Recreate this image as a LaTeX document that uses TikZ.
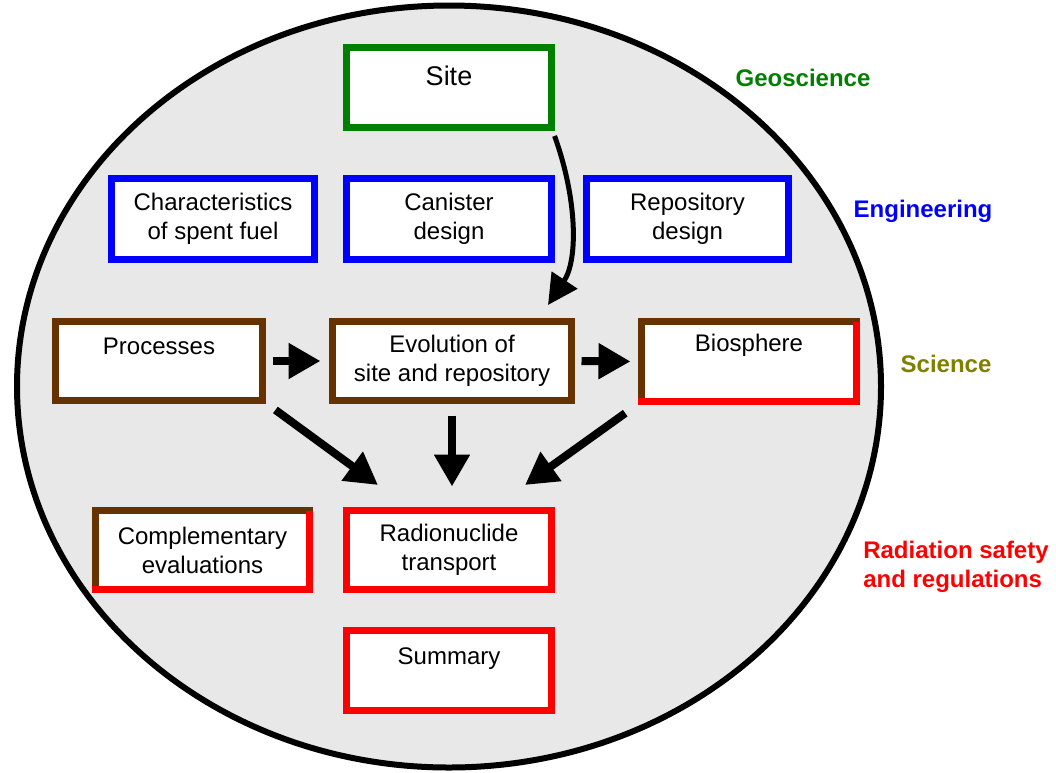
\documentclass[tikz,border=0pt]{standalone}
\usepackage{fontspec}
\setmainfont{Liberation Sans}
\usetikzlibrary{arrows.meta,calc}
\definecolor{geogreen}{RGB}{0,128,0}
\definecolor{engblue}{RGB}{0,0,255}
\definecolor{scibrown}{RGB}{102,51,0}
\definecolor{sciolive}{RGB}{128,128,0}
\definecolor{radred}{RGB}{255,0,0}
\definecolor{ovalgray}{RGB}{232,232,232}
\tikzset{
  box/.style={draw=#1,line width=7pt,fill=white,minimum width=205pt,minimum height=80pt,inner sep=0pt,outer sep=0pt,align=center,font=\fontsize{24}{29}\selectfont},
  box/.default={scibrown},
  redside/.style={draw=radred,line width=7pt},
  arr/.style={line width=8pt,-{Triangle[length=32pt,width=34pt]}},
  area/.style={font=\bfseries\fontsize{24}{29}\selectfont,align=left},
}
\begin{document}
\begin{tikzpicture}[x=1pt,y=-1pt]
 \useasboundingbox (0,0) rectangle (1056,772);
 \draw[line width=6pt,fill=ovalgray] (449,386.5) ellipse [x radius=432,y radius=381];
 % boxes
 \node[box=geogreen,font=\fontsize{27}{24}\selectfont] (site) at (449,87.5) {Site\\\mbox{}};
 \node[box=engblue,minimum width=203pt,minimum height=81pt] (fuel) at (213,219) {Characteristics\\of spent fuel};
 \node[box=engblue,minimum height=81pt] (can) at (449,219) {Canister\\design};
 \node[box=engblue,minimum width=202pt,minimum height=81pt] (repo) at (687.5,219) {Repository\\design};
 \node[box,minimum width=207pt,minimum height=79pt] (proc) at (159,361) {Processes\\\mbox{}};
 \node[box,minimum width=239pt,minimum height=79pt] (evo) at (452,361) {Evolution of\\site and repository};
 \node[box,minimum width=215pt,font=\fontsize{24}{38}\selectfont] (bio) at (749,361.5) {Biosphere\\\mbox{}};
 \node[box,minimum width=214pt,minimum height=79pt] (comp) at (202.5,550) {Complementary\\evaluations};
 \node[box=radred,minimum height=79pt] (rad) at (449,550) {Radionuclide\\transport};
 \node[box=radred] (sum) at (449,670.5) {Summary\\\mbox{}};
 \draw[redside] (bio.north east) -- (bio.south east) -- ($(bio.south west)+(-3.5,0)$);
 \draw[redside] (comp.north east) -- (comp.south east) -- ($(comp.south west)+(-3.5,0)$);
 % areas
 \node[area,text=geogreen] (geo) at (803,78) {Geoscience};
 \node[area,text=engblue] (eng) at (923,211) {Engineering};
 \node[area,text=sciolive] (sci) at (946,364) {Science};
 \node[area,text=radred] (radsafe) at (956,567) {Radiation safety\\and regulations};
 % arrows
 \coordinate (hitC) at (548,305);
 \coordinate (hitL) at (378,485);
 \coordinate (hitR) at (525,485);
 \draw[arr,line width=5pt,-{Triangle[length=30pt,width=30pt]},shorten <=9pt] (site.south east) .. controls +(26,72) and +(30,-45) .. (hitC);
 \draw[arr,shorten <=10pt,shorten >=12pt] (proc.east) -- (evo.west);
 \draw[arr,shorten <=10pt,shorten >=11pt] (evo.east) -- (bio.west);
 \draw[arr,shorten <=15pt,shorten >=24pt] (evo.south) -- (evo.south |- rad.north);
 \draw[arr,shorten <=16pt] (proc.south east) -- (hitL);
 \draw[arr,shorten <=20pt] (bio.south west) -- (hitR);
\end{tikzpicture}
\end{document}
